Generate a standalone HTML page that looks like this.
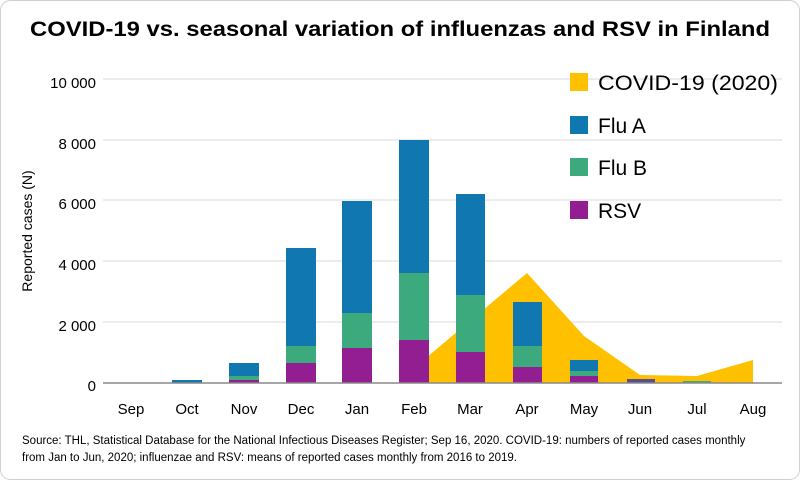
<!DOCTYPE html>
<html><head><meta charset="utf-8"><style>
body{margin:0;background:#fff;}
svg text{font-family:"Liberation Sans",Arial,sans-serif;}
</style></head><body>
<svg width="800" height="480" viewBox="0 0 800 480" xmlns="http://www.w3.org/2000/svg">
<rect x="0.5" y="0.5" width="799" height="479" rx="10" fill="#fff" stroke="#d0d0d0"/>
<text x="30" y="36" font-size="21" font-weight="bold" fill="#000" textLength="740" lengthAdjust="spacingAndGlyphs">COVID-19 vs. seasonal variation of influenzas and RSV in Finland</text>
<g stroke="#d9d9d9" stroke-width="1">
<line x1="103" y1="79" x2="782" y2="79"/><line x1="103" y1="140" x2="782" y2="140"/>
<line x1="103" y1="200" x2="782" y2="200"/><line x1="103" y1="261" x2="782" y2="261"/>
<line x1="103" y1="322" x2="782" y2="322"/>
</g>
<g font-size="15" fill="#000" text-anchor="end">
<text x="96" y="88">10 000</text><text x="96" y="149">8 000</text><text x="96" y="209">6 000</text>
<text x="96" y="270">4 000</text><text x="96" y="331">2 000</text><text x="96" y="391">0</text>
</g>
<text transform="translate(32,231) rotate(-90)" text-anchor="middle" font-size="14">Reported cases (N)</text>
<polygon points="414,383 414,368 527,273 584,336 640,375 697,376 753,360 753,383" fill="#ffc000"/>
<g>
<rect x="172" y="380" width="30" height="3" fill="#1177b0"/>
<rect x="229" y="363" width="30" height="14" fill="#1177b0"/><rect x="229" y="376" width="30" height="4" fill="#3daa7d"/><rect x="229" y="380" width="30" height="3" fill="#921e91"/>
<rect x="286" y="248" width="30" height="98" fill="#1177b0"/><rect x="286" y="346" width="30" height="17" fill="#3daa7d"/><rect x="286" y="363" width="30" height="20" fill="#921e91"/>
<rect x="342" y="201" width="30" height="112" fill="#1177b0"/><rect x="342" y="313" width="30" height="35" fill="#3daa7d"/><rect x="342" y="348" width="30" height="35" fill="#921e91"/>
<rect x="399" y="140" width="30" height="133" fill="#1177b0"/><rect x="399" y="273" width="30" height="67" fill="#3daa7d"/><rect x="399" y="340" width="30" height="43" fill="#921e91"/>
<rect x="456" y="194" width="29" height="101" fill="#1177b0"/><rect x="456" y="295" width="29" height="57" fill="#3daa7d"/><rect x="456" y="352" width="29" height="31" fill="#921e91"/>
<rect x="513" y="302" width="29" height="44" fill="#1177b0"/><rect x="513" y="346" width="29" height="21" fill="#3daa7d"/><rect x="513" y="367" width="29" height="16" fill="#921e91"/>
<rect x="570" y="360" width="28" height="11" fill="#1177b0"/><rect x="570" y="371" width="28" height="5" fill="#3daa7d"/><rect x="570" y="376" width="28" height="7" fill="#921e91"/>
<rect x="627" y="379" width="28" height="4" fill="#5b4e8f"/>
<rect x="683" y="381" width="28" height="2" fill="#3daa7d"/>
</g>
<line x1="103" y1="383" x2="782" y2="383" stroke="#888" stroke-width="1.5"/>
<g font-size="15" text-anchor="middle">
<text x="131" y="414">Sep</text><text x="187" y="414">Oct</text><text x="244" y="414">Nov</text>
<text x="301" y="414">Dec</text><text x="357" y="414">Jan</text><text x="414" y="414">Feb</text>
<text x="470" y="414">Mar</text><text x="527" y="414">Apr</text><text x="584" y="414">May</text>
<text x="640" y="414">Jun</text><text x="697" y="414">Jul</text><text x="753" y="414">Aug</text>
</g>
<g font-size="21">
<rect x="570" y="73" width="18" height="18" fill="#ffc000"/><text x="598" y="90" textLength="180" lengthAdjust="spacingAndGlyphs">COVID-19 (2020)</text>
<rect x="570" y="116" width="18" height="18" fill="#1177b0"/><text x="598" y="133">Flu A</text>
<rect x="570" y="158" width="18" height="18" fill="#3daa7d"/><text x="598" y="175">Flu B</text>
<rect x="570" y="201" width="18" height="18" fill="#921e91"/><text x="598" y="218">RSV</text>
</g>
<g font-size="11.5">
<text x="22" y="444">Source: THL, Statistical Database for the National Infectious Diseases Register; Sep 16, 2020. COVID-19: numbers of reported cases monthly</text>
<text x="22" y="461">from Jan to Jun, 2020; influenzae and RSV: means of reported cases monthly from 2016 to 2019.</text>
</g>
</svg>
</body></html>
